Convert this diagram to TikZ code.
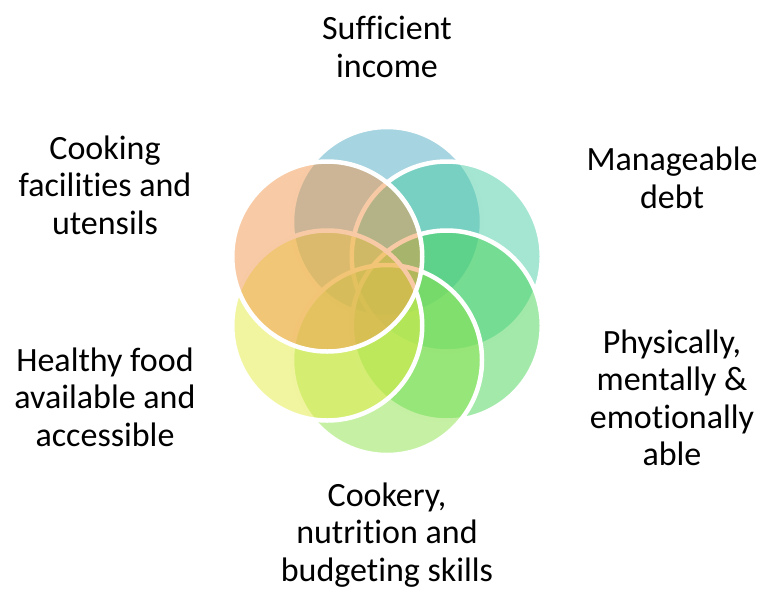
\documentclass[tikz,border=0pt]{standalone}
\usepackage{fontspec}
\setmainfont{Carlito}[Ligatures=CommonOff]
\usepackage{xcolor}
\usetikzlibrary{positioning}

\definecolor{ringblue}{RGB}{77,169,193}
\definecolor{ringteal}{RGB}{75,205,165}
\definecolor{ringgreen}{RGB}{71,213,85}
\definecolor{ringlime}{RGB}{141,227,75}
\definecolor{ringyellow}{RGB}{229,235,65}
\definecolor{ringorange}{RGB}{241,151,77}

\tikzset{
  ringcircle/.style={circle, draw=white, line width=4.5pt, fill opacity=0.5, draw opacity=1, minimum size=190pt, inner sep=0pt},
  needtext/.style={align=center, inner sep=0pt, font=\fontsize{34}{37.5}\selectfont}
}

\begin{document}
\begin{tikzpicture}[x=1pt, y=-1pt]
	\useasboundingbox (0,0) rectangle (762,590);
	\coordinate (ring) at (387,291);
	% six overlapping circles, drawn clockwise from the top
	\foreach \ang/\col/\nm in {90/ringblue/cincome, 30/ringteal/cdebt, -30/ringgreen/cable, -90/ringlime/cskills, -150/ringyellow/cfood, 150/ringorange/ccooking}
		\node[ringcircle, fill=\col] (\nm) at ([shift={(\ang:69pt)}]ring) {};
	% labels
	\node[needtext] (income) at (387,47) {Sufficient\\income};
	\node[needtext] (debt) at (672,178) {Manageable\\debt};
	\node[needtext] (able) at (672,398) {Physically,\\mentally \&\\emotionally\\able};
	\node[needtext] (skills) at (387,535) {Cookery,\\nutrition and\\budgeting skills};
	\node[needtext] (food) at (105,397) {Healthy food\\available and\\accessible};
	\node[needtext] (cooking) at (105,185) {Cooking\\facilities and\\utensils};
\end{tikzpicture}
\end{document}
